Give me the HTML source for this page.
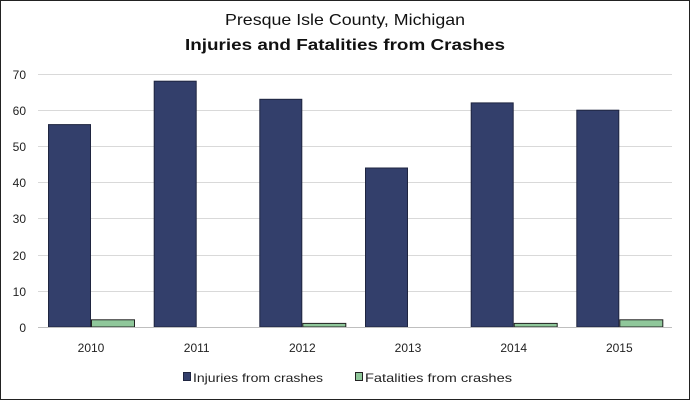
<!DOCTYPE html>
<html><head><style>
body{margin:0;background:#fff}
svg{display:block;font-family:"Liberation Sans",sans-serif}
</style></head><body>
<svg width="690" height="400" viewBox="0 0 690 400">
<rect x="0.5" y="0.5" width="689" height="399" fill="#fff" stroke="#222"/>
<text x="345" y="25" text-anchor="middle" font-size="16" fill="#111" textLength="240" lengthAdjust="spacingAndGlyphs">Presque Isle County, Michigan</text>
<text x="345" y="50" text-anchor="middle" font-size="16" font-weight="bold" fill="#111" textLength="320" lengthAdjust="spacingAndGlyphs">Injuries and Fatalities from Crashes</text>
<g stroke="#d9d9d9" stroke-width="1">
<line x1="38" x2="672" y1="74.5" y2="74.5"/>
<line x1="38" x2="672" y1="110.5" y2="110.5"/>
<line x1="38" x2="672" y1="146.5" y2="146.5"/>
<line x1="38" x2="672" y1="182.5" y2="182.5"/>
<line x1="38" x2="672" y1="218.5" y2="218.5"/>
<line x1="38" x2="672" y1="255.5" y2="255.5"/>
<line x1="38" x2="672" y1="291.5" y2="291.5"/>
</g>
<g font-size="12" fill="#222" text-anchor="end">
<text x="26" y="79">70</text><text x="26" y="115">60</text><text x="26" y="151">50</text>
<text x="26" y="187">40</text><text x="26" y="223">30</text><text x="26" y="260">20</text>
<text x="26" y="296">10</text><text x="26" y="332">0</text>
</g>
<g fill="#333f6b" stroke="#1f2540" stroke-width="1">
<rect x="48.5" y="124.6" width="42" height="202.4"/>
<rect x="154.2" y="81.2" width="42" height="245.8"/>
<rect x="259.8" y="99.3" width="42" height="227.7"/>
<rect x="365.5" y="168" width="42" height="159"/>
<rect x="471.2" y="102.9" width="42" height="224.1"/>
<rect x="576.8" y="110.2" width="42" height="216.8"/>
</g>
<g fill="#8fc79a" stroke="#222" stroke-width="1">
<rect x="91.5" y="319.8" width="43" height="7.2"/>
<rect x="302.8" y="323.4" width="43" height="3.6"/>
<rect x="514.2" y="323.4" width="43" height="3.6"/>
<rect x="619.8" y="319.8" width="43" height="7.2"/>
</g>
<line x1="38" x2="672" y1="327.5" y2="327.5" stroke="#bfbfbf"/>
<g font-size="12" fill="#222" text-anchor="middle">
<text x="91" y="352">2010</text><text x="196.7" y="352">2011</text><text x="302.3" y="352">2012</text>
<text x="408" y="352">2013</text><text x="513.7" y="352">2014</text><text x="619.3" y="352">2015</text>
</g>
<rect x="183.5" y="372.5" width="7" height="8" fill="#333f6b" stroke="#1f2540"/>
<text x="193" y="382" font-size="12" fill="#222" textLength="130" lengthAdjust="spacingAndGlyphs">Injuries from crashes</text>
<rect x="355.5" y="372.5" width="7" height="8" fill="#8fc79a" stroke="#222"/>
<text x="365" y="382" font-size="12" fill="#222" textLength="147" lengthAdjust="spacingAndGlyphs">Fatalities from crashes</text>
</svg>
</body></html>
